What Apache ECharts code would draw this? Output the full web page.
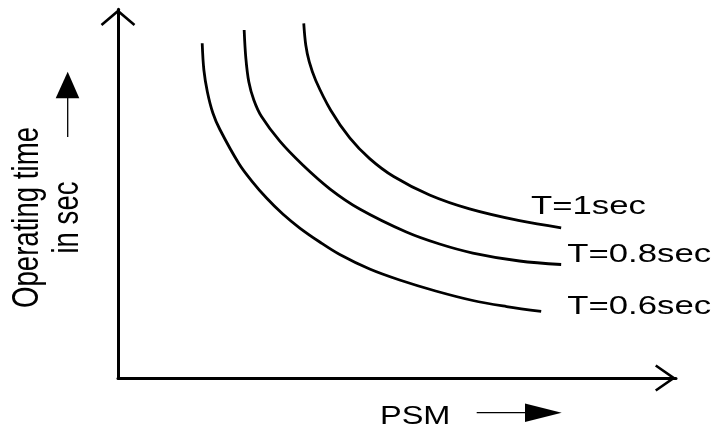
<!DOCTYPE html>
<html>
<head>
<meta charset="utf-8">
<script src="https://cdn.jsdelivr.net/npm/echarts@6/dist/echarts.min.js"></script>
<style>html,body{margin:0;padding:0;background:#fff;}#main{width:715px;height:432px;}</style>
</head>
<body>
<div id="main"></div>
<script>
// Curve labels
var curveNames = ['T=1sec', 'T=0.8sec', 'T=0.6sec'];
// PSM (x) and operating time (y) in relative units 0..100
var psm10  = [33.29, 33.65, 34.28, 35.44, 38.12, 41.53, 45.10, 49.40, 55.84, 63.00, 71.95, 79.42];
var time10 = [96.20, 90.32, 85.71, 80.69, 72.63, 65.12, 59.51, 54.65, 49.63, 45.86, 42.66, 40.74];
var psm08  = [22.61, 22.91, 23.45, 24.34, 25.72, 29.00, 33.11, 37.95, 43.31, 51.67, 57.63, 63.59, 71.95, 79.42];
var time08 = [94.39, 86.79, 80.28, 75.40, 70.90, 64.23, 57.77, 51.32, 45.84, 39.60, 36.34, 33.90, 31.73, 30.78];
var psm06  = [15.09, 15.39, 16.02, 17.00, 18.26, 21.71, 23.98, 26.62, 29.53, 32.58, 36.16, 39.74, 45.10, 50.47, 56.92, 63.59, 69.63, 75.84];
var time06 = [90.78, 83.54, 77.57, 71.87, 67.40, 58.04, 53.43, 48.82, 44.48, 40.68, 36.89, 33.50, 29.56, 26.58, 23.60, 21.02, 19.39, 18.04];
var axisNames = ['PSM', 'Operating time', 'in sec'];

function pairs(xs, ys) { return xs.map(function (x, i) { return [x, ys[i]]; }); }

var chart = echarts.init(document.getElementById('main'), null, {renderer: 'canvas'});
var FONT = '"Liberation Sans", Arial, sans-serif';
var yArrow = 'path://M17.34,0 L34.68,14.71 L33,16.69 L17.34,3.4 L1.68,16.69 L0,14.71 Z';
var xArrow = 'path://M13.568,0 L27.136,19.538 L25,21.022 L13.568,4.56 L2.136,21.022 L0,19.538 Z';

function lineSeries(name, data) {
  return {
    name: name, type: 'line', data: data, smooth: 0.35, showSymbol: false,
    lineStyle: {color: '#000', width: 2.8}, itemStyle: {color: '#000'},
    emphasis: {disabled: true}, animation: false
  };
}
function txt(text, x, y, size, sx, sy, rot, align) {
  return {
    type: 'text', x: x, y: y, scaleX: sx, scaleY: sy, rotation: rot || 0, silent: true,
    style: {text: text, fill: '#000', font: size + 'px ' + FONT,
      align: align || 'left', verticalAlign: 'middle',
      textAlign: align || 'left', textVerticalAlign: 'middle'}
  };
}

var option = {
  backgroundColor: '#fff',
  animation: false,
  grid: {left: 118, top: 9.3, right: 39, bottom: 54, outerBoundsMode: 'none', containLabel: false},
  xAxis: {
    type: 'value', min: 0, max: 100,
    axisLine: {show: true, lineStyle: {color: '#000', width: 3},
      symbol: ['none', xArrow], symbolSize: [27.136, 21.022], symbolOffset: [0, -10.5]},
    axisTick: {show: false}, axisLabel: {show: false}, splitLine: {show: false}
  },
  yAxis: {
    type: 'value', min: 0, max: 100,
    axisLine: {show: true, lineStyle: {color: '#000', width: 3},
      symbol: ['none', yArrow], symbolSize: [34.68, 16.69], symbolOffset: [0, -8.35]},
    axisTick: {show: false}, axisLabel: {show: false}, splitLine: {show: false}
  },
  series: [
    lineSeries(curveNames[0], pairs(psm10, time10)),
    lineSeries(curveNames[1], pairs(psm08, time08)),
    lineSeries(curveNames[2], pairs(psm06, time06))
  ],
  graphic: [
    txt(curveNames[0], 531, 206.4, 26.5, 1.31, 1),
    txt(curveNames[1], 567.3, 254.7, 26.5, 1.31, 1),
    txt(curveNames[2], 567.3, 306.2, 26.5, 1.31, 1),
    txt(axisNames[0], 380, 417, 25, 1.3, 1),
    txt(axisNames[1], 28, 217.5, 27.6, 1, 1.37, Math.PI / 2, 'center'),
    txt(axisNames[2], 68, 217.5, 27.6, 1, 1.37, Math.PI / 2, 'center'),
    {type: 'line', silent: true, shape: {x1: 67.7, y1: 137, x2: 67.7, y2: 97}, style: {stroke: '#000', lineWidth: 1.3}},
    {type: 'polygon', silent: true, shape: {points: [[67.7, 71.7], [55.7, 98.3], [79.3, 98.3]]}, style: {fill: '#000'}},
    {type: 'line', silent: true, shape: {x1: 476.7, y1: 412.7, x2: 527, y2: 412.7}, style: {stroke: '#000', lineWidth: 1.3}},
    {type: 'polygon', silent: true, shape: {points: [[561.7, 412.7], [525, 403.5], [525, 421.9]]}, style: {fill: '#000'}}
  ]
};
chart.setOption(option);
</script>
</body>
</html>
